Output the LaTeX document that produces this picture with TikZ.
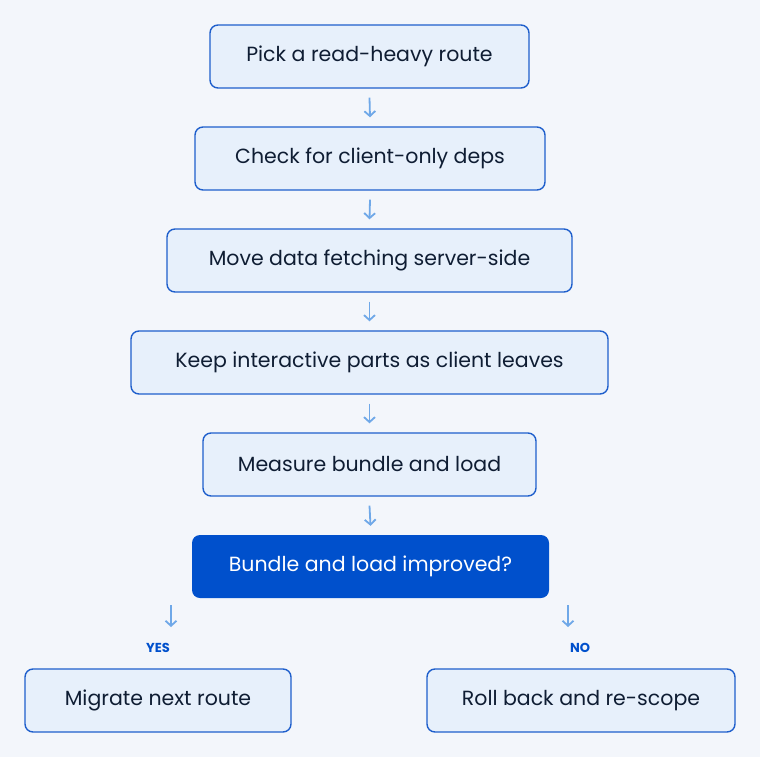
\documentclass[tikz,border=0pt]{standalone}
\usepackage{fontspec}
\setmainfont{Poppins}
\usetikzlibrary{arrows.meta}
\definecolor{bg}{HTML}{F3F6FB}
\definecolor{boxfill}{HTML}{E7F0FB}
\definecolor{boxline}{HTML}{1F5FCC}
\definecolor{dark}{HTML}{0050CC}
\definecolor{arr}{HTML}{6FA8E8}
\definecolor{txt}{HTML}{0F1D33}
\begin{document}
\begin{tikzpicture}[x=1pt,y=-1pt,
  stepbox/.style={draw=boxline,line width=1.4pt,fill=boxfill,rounded corners=8pt,minimum height=63pt,text=txt,font=\fontsize{20.5}{24}\selectfont},
  darkbox/.style={fill=dark,rounded corners=8pt,minimum height=63pt,text=white,font=\fontsize{20.5}{24}\selectfont},
  flow/.style={draw=arr,line width=1.8pt,-{Straight Barb[length=5pt,width=11pt]}},
  lab/.style={text=dark,font=\fontsize{13}{15}\selectfont\bfseries}]
\fill[bg] (0,0) rectangle (760,757);
\useasboundingbox (0,0) rectangle (760,757);
\node[stepbox,minimum width=319pt] (a) at (369.5,56.5) {Pick a read-heavy route};
\node[stepbox,minimum width=350pt] (b) at (370,158.5) {Check for client-only deps};
\node[stepbox,minimum width=405pt] (c) at (369.5,260.5) {Move data fetching server-side};
\node[stepbox,minimum width=477pt] (d) at (369.5,362.5) {Keep interactive parts as client leaves};
\node[stepbox,minimum width=333pt] (e) at (369.5,464.5) {Measure bundle and load};
\node[darkbox,minimum width=357pt] (f) at (370.5,566.5) {Bundle and load improved?};
\node[stepbox,minimum width=266pt] (y) at (158,700.5) {Migrate next route};
\node[stepbox,minimum width=308pt] (n) at (581,700.5) {Roll back and re-scope};
\node[lab] (yl) at (158,648) {YES};
\node[lab] (nl) at (580,648) {NO};
\coordinate (y1) at (171,605); \coordinate (y2) at (171,627);
\coordinate (n1) at (568,605); \coordinate (n2) at (568,627);
\foreach \p/\q in {a/b,b/c,c/d,d/e,e/f}{
  \draw[flow] ([yshift=-9pt]\p.south) -- ([yshift=9pt]\q.north);
}
\draw[flow] (y1) -- (y2);
\draw[flow] (n1) -- (n2);
\end{tikzpicture}
\end{document}
